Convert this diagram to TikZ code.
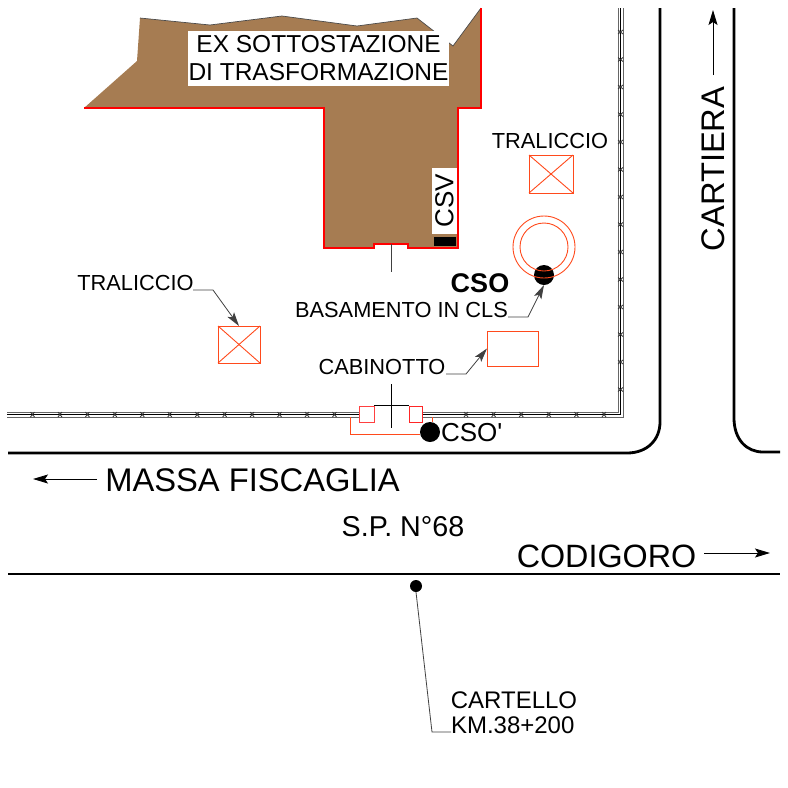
\documentclass[tikz,border=0pt]{standalone}
\usepackage{fontspec}
\setmainfont{Liberation Sans}
\newfontfamily\plainfont{Liberation Sans}
\usetikzlibrary{positioning,arrows.meta}
\definecolor{terrain}{HTML}{A67C52}
\definecolor{linered}{HTML}{FF0000}
\definecolor{thinred}{HTML}{FF4A1C}
\begin{document}
\begin{tikzpicture}[x=1pt,y=-1pt,
	labelb/.style={
	  inner sep=0pt,
	  outer sep=0pt,
	  text=black,
	  font=\fontsize{21.8}{21.8}\selectfont
	},
	bigb/.style={
	  labelb,
	  font=\fontsize{32.7}{32.7}\selectfont
	},
	midb/.style={
	  labelb,
	  font=\plainfont\fontsize{26}{26}\selectfont
	},
	maskb/.style={
	  fill=white,
	  inner sep=0pt,
	  outer sep=0pt,
	  font=\fontsize{24.5}{28}\selectfont,
	  align=center
	},
	squareb/.style={
	  draw=thinred,
	  line width=0.9pt,
	  inner sep=0pt,
	  outer sep=0pt
	},
	dotb/.style={
	  circle,
	  fill=black,
	  inner sep=0pt,
	  outer sep=0pt
	},
	road/.style={line width=2.8pt,black},
	leader/.style={line width=0.8pt,black!75},
	pointer/.style={leader,-{Stealth[length=14pt,width=8pt,inset=3pt]}},
	heading/.style={line width=0.9pt,black,-{Stealth[length=15pt,width=9pt,inset=3pt]}},
	fenceo/.style={line width=0.8pt,black!60},
	fencei/.style={line width=0.9pt,black},
	fencex/.style={line width=0.8pt,black!80},
	thin red/.style={line width=0.9pt,thinred}]

	\useasboundingbox (0,0) rectangle (788,788);

	\fill[terrain] (84,108) -- (137,61) -- (140,18) -- (210,25) -- (282,16) -- (357,26) -- (417,18)
	  -- (453,46) -- (481,8) -- (481,108) -- (458,108) -- (458,248) -- (408,248) -- (408,244)
	  -- (374,244) -- (374,248) -- (324,248) -- (324,108) -- cycle;
	\draw[line width=0.7pt,black!70] (140,18) -- (210,25) -- (282,16) -- (357,26) -- (417,18) -- (453,46) -- (481,8);
	\draw[linered,line width=1.2pt] (84,108) -- (324,108) -- (324,248) -- (374,248) -- (374,244)
	  -- (408,244) -- (408,248) -- (458,248) -- (458,108) -- (481,108) -- (481,8);

	\node[maskb,minimum width=261pt,minimum height=55pt] (Substation) at (318.5,58.5) {EX SOTTOSTAZIONE\\DI TRASFORMAZIONE};
	\node[maskb,rotate=90,minimum width=66pt,minimum height=25pt,font=\fontsize{26}{26}\selectfont] (CSV) at (444.5,201) {CSV};
	\node[fill=black,inner sep=0pt,minimum width=22pt,minimum height=9pt] (CSVbox) at (445,241.5) {};

	\coordinate (NotchA) at (391,244);
	\coordinate (NotchB) at (391,272);
	\draw[leader] (NotchA) -- (NotchB);

	\node[labelb] (TralR) at (550,140.5) {TRALICCIO};
	\node[squareb,minimum width=44pt,minimum height=38pt] (TralRbox) at (551,174) {};
	\draw[thin red] (TralRbox.north west) -- (TralRbox.south east);
	\draw[thin red] (TralRbox.north east) -- (TralRbox.south west);

	\node[labelb] (TralL) at (135.5,283) {TRALICCIO};
	\node[squareb,minimum width=42pt,minimum height=37pt] (TralLbox) at (239,344.5) {};
	\draw[thin red] (TralLbox.north west) -- (TralLbox.south east);
	\draw[thin red] (TralLbox.north east) -- (TralLbox.south west);
	\coordinate (TralLa) at (193,290);
	\coordinate (TralLb) at (213,290);
	\draw[pointer] (TralLa) -- (TralLb) -- (TralLbox.north);

	\node[dotb,minimum size=20pt] (CSOdot) at (544,275) {};
	\node[circle,draw=thinred,line width=0.9pt,inner sep=0pt,minimum size=62pt] (TankO) at (544,247) {};
	\node[circle,draw=thinred,line width=0.9pt,inner sep=0pt,minimum size=48pt] (TankI) at (544,247) {};
	\node[labelb,font=\fontsize{27}{27}\selectfont\bfseries] (CSO) at (480,283) {CSO};

	\node[labelb] (Basamento) at (401.5,310) {BASAMENTO IN CLS};
	\coordinate (BasaA) at (508,317);
	\coordinate (BasaB) at (528,317);
	\draw[pointer] (BasaA) -- (BasaB) -- (CSOdot.south);

	\node[squareb,minimum width=51pt,minimum height=35pt] (Cabin) at (512.5,348.5) {};
	\node[labelb] (Cabinotto) at (382,367) {CABINOTTO};
	\coordinate (CabinA) at (446,374);
	\coordinate (CabinB) at (466,374);
	\draw[pointer] (CabinA) -- (CabinB) -- (Cabin.west);

	\draw[fenceo] (7,412) -- (359,412);
	\draw[fenceo] (7,417) -- (359,417);
	\draw[fencei] (7,414.5) -- (359,414.5);
	\draw[fenceo] (422,412) -- (618,412) -- (618,8);
	\draw[fenceo] (422,417) -- (623,417) -- (623,8);
	\draw[fencei] (422,414.5) -- (620.5,414.5) -- (620.5,8);
	\foreach \i in {0,...,11} {
	  \pgfmathsetmacro{\xa}{32.5+27.45*\i}
	  \draw[fencex] (\xa-2,412) -- (\xa+2,417) (\xa-2,417) -- (\xa+2,412);
	}
	\foreach \i in {0,...,5} {
	  \pgfmathsetmacro{\xa}{466+27.6*\i}
	  \draw[fencex] (\xa-2,412) -- (\xa+2,417) (\xa-2,417) -- (\xa+2,412);
	}
	\foreach \i in {0,...,13} {
	  \pgfmathsetmacro{\ya}{32+27.5*\i}
	  \draw[fencex] (618,\ya-2) -- (623,\ya+2) (618,\ya+2) -- (623,\ya-2);
	}

	\node[draw=linered!75!white,line width=0.9pt,inner sep=0pt,minimum width=15pt,minimum height=16pt] (GateL) at (366.5,414) {};
	\node[draw=linered!85!white,line width=0.9pt,inner sep=0pt,minimum width=13pt,minimum height=16pt] (GateR) at (415.5,414) {};
	\draw[line width=1.2pt,black] (GateL.north east) -- (GateR.north west);
	\coordinate (GateA) at (391,384);
	\coordinate (GateB) at (391,428);
	\draw[line width=0.8pt,black] (GateA) -- (GateB);

	\node[dotb,minimum size=20pt] (CSOp) at (430,432) {};
	\node[midb,anchor=west] (CSOpl) at (441,433) {CSO'};
	\coordinate (WireA) at (350,417);
	\coordinate (WireB) at (350,434);
	\coordinate (WireC) at (432,417);
	\draw[thin red] (WireA) -- (WireB) -- (CSOp.west |- WireB);
	\draw[thin red] (WireC) -- (WireC |- CSOp.north);

	\draw[road] (8,453) -- (627,453) .. controls (647,453) and (660,440) .. (660,422) -- (660,8);
	\draw[road] (734,8) -- (734,418) .. controls (734,440) and (747,452) .. (763,452) -- (780,452);
	\draw[road] (8,574) -- (780,574);

	\node[bigb] (Massa) at (252.5,480) {MASSA FISCAGLIA};
	\coordinate (MassaA) at (97,479);
	\coordinate (MassaB) at (33,479);
	\draw[heading] (MassaA) -- (MassaB);
	\node[labelb,font=\fontsize{28.7}{28.7}\selectfont] (SPlabel) at (403,527) {S.P. N°68};
	\node[labelb,font=\fontsize{32.3}{32.3}\selectfont] (Codigoro) at (606.5,556) {CODIGORO};
	\coordinate (CodiA) at (704,553);
	\coordinate (CodiB) at (770,553);
	\draw[heading] (CodiA) -- (CodiB);

	\node[bigb,rotate=90] (Cartiera) at (713,169) {CARTIERA};
	\coordinate (CartA) at (713,75);
	\coordinate (CartB) at (713,10);
	\draw[heading] (CartA) -- (CartB);

	\node[dotb,minimum size=12pt] (Sign) at (416,586) {};
	\node[labelb,font=\fontsize{24}{24}\selectfont] (Cartello) at (514,700) {CARTELLO};
	\node[labelb,font=\fontsize{24}{24}\selectfont,anchor=west] (Km) at (451,725) {KM.38+200};
	\coordinate (SignA) at (432,732);
	\coordinate (SignB) at (451,732);
	\draw[leader] (Sign.south) -- (SignA) -- (SignB);
\end{tikzpicture}
\end{document}
